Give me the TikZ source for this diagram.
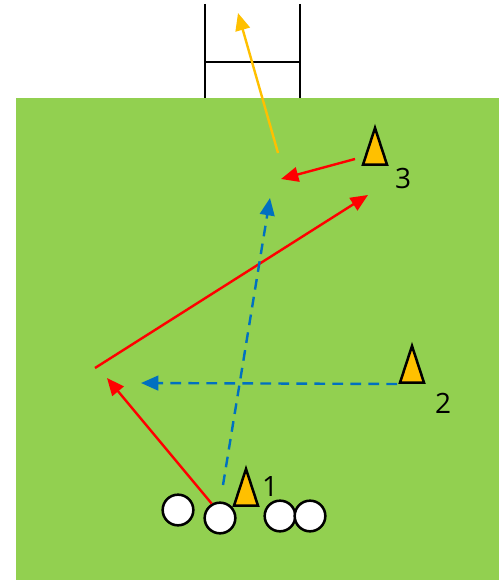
\documentclass[tikz,border=0pt]{standalone}
\usepackage{fontspec}
\setmainfont{Open Sans}
\usepackage{tikz}
\usetikzlibrary{shapes.geometric, arrows.meta}
\definecolor{pitchgreen}{HTML}{92D050}
\definecolor{coneorange}{HTML}{FFC000}
\definecolor{runblue}{HTML}{0070C0}

\begin{document}
\begin{tikzpicture}[
      x=0.75pt, y=-0.75pt,
      cone/.style={draw, line width=1.9pt, fill=coneorange, isosceles triangle,
                  isosceles triangle apex angle=35, isosceles triangle stretches,
                  shape border rotate=90, inner sep=0pt, outer sep=0pt,
                  minimum width=18pt, minimum height=27.5pt, anchor=apex},
      player/.style={draw, circle, line width=1.9pt, fill=white, inner sep=0pt,
                  minimum size=23pt},
      num/.style={font=\fontsize{21}{21}\selectfont, inner sep=0pt},
      post/.style={line width=1.6pt},
      run/.style={-{Triangle[length=13pt, width=11pt]}, line width=1.8pt, red},
      ballpass/.style={-{Triangle[length=13pt, width=11pt]}, line width=1.8pt, runblue,
                  dash pattern=on 8pt off 5.5pt},
      kick/.style={-{Triangle[length=13pt, width=11pt]}, line width=1.8pt, coneorange}
    ]
    \useasboundingbox (0,0) rectangle (499,580);
    \fill[pitchgreen] (16,98) rectangle (499,580);

    \coordinate (postL) at (205,4);
    \coordinate (postR) at (300,4);
    \coordinate (postLb) at (205,98);
    \coordinate (postRb) at (300,98);
    \coordinate (barL) at (205,62);
    \coordinate (barR) at (300,62);
    \draw[post] (postL) -- (postLb);
    \draw[post] (postR) -- (postRb);
    \draw[post] (barL) -- (barR);

    \coordinate (catch1) at (107,378);
    \coordinate (run2a) at (95,368);
    \coordinate (run2b) at (368,195);
    \coordinate (pass1a) at (223,485);
    \coordinate (pass1b) at (270,198);
    \coordinate (pass2a) at (397,384);
    \coordinate (pass2b) at (141,383);
    \coordinate (run3a) at (355,159);
    \coordinate (run3b) at (281,179);
    \coordinate (kicka) at (278,153);
    \coordinate (kickb) at (238,13);

    \node[player] (p1) at (178,510) {};
    \node[player] (p2) at (220,518) {};
    \node[player] (p3) at (280,516) {};
    \node[player] (p4) at (310,516) {};

    \draw[run] (p2.120) -- (catch1);
    \draw[run] (run2a) -- (run2b);
    \draw[run] (run3a) -- (run3b);
    \draw[ballpass] (pass1a) -- (pass1b);
    \draw[ballpass] (pass2a) -- (pass2b);
    \draw[kick] (kicka) -- (kickb);

    \node[cone] (cone1) at (246,469) {};
    \node[cone] (cone2) at (412,346) {};
    \node[cone] (cone3) at (375,128) {};

    \node[num] (num1) at (270,487) {1};
    \node[num] (num2) at (443,403) {2};
    \node[num] (num3) at (403,179) {3};
  \end{tikzpicture}
\end{document}
